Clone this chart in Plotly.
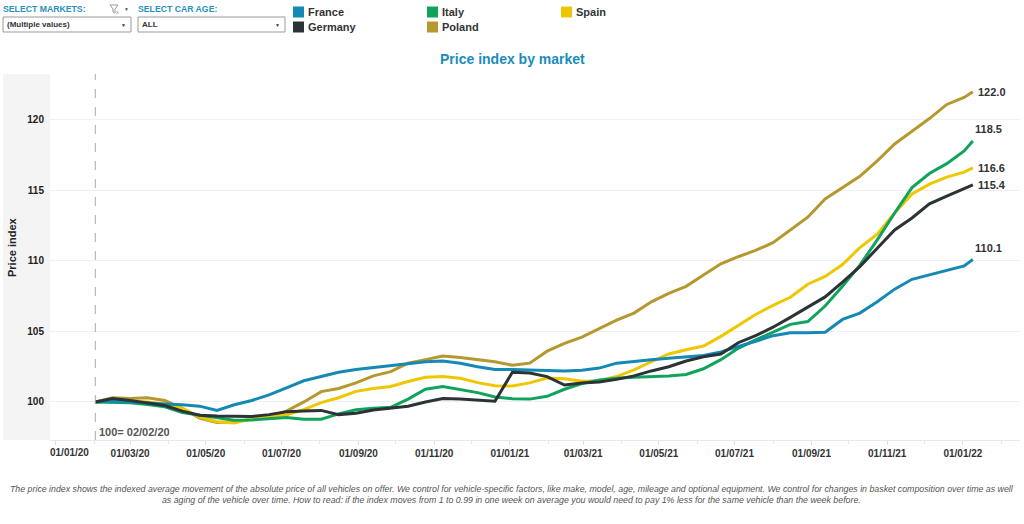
import pandas as pd
import plotly.graph_objects as go

# ---------------- data ----------------
week_offsets = list(range(0, 101, 2)) + [101]
start_date = pd.Timestamp("2020-02-02")
dates = [start_date + pd.Timedelta(days=7 * w) for w in week_offsets]

france = [100.0, 100.05, 100.0, 99.9, 99.85, 99.8, 99.7, 99.4, 99.8, 100.1,
          100.5, 101.0, 101.5, 101.8, 102.1, 102.3, 102.45, 102.6, 102.75, 102.85,
          102.9, 102.75, 102.5, 102.3, 102.3, 102.27, 102.25, 102.2, 102.25, 102.4,
          102.75, 102.9, 103.0, 103.1, 103.2, 103.3, 103.55, 103.9, 104.3, 104.7,
          104.9, 104.9, 104.95, 105.85, 106.3, 107.1, 108.0, 108.7, 109.0, 109.35,
          109.65, 110.1]
germany = [100.0, 100.25, 100.1, 99.95, 99.75, 99.35, 99.05, 99.0, 98.98, 98.97,
           99.1, 99.3, 99.35, 99.4, 99.1, 99.2, 99.43, 99.55, 99.7, 100.0,
           100.25, 100.2, 100.1, 100.05, 102.1, 102.05, 101.8, 101.2, 101.35, 101.42,
           101.6, 101.85, 102.2, 102.5, 102.9, 103.2, 103.4, 104.2, 104.7, 105.3,
           106.0, 106.7, 107.45, 108.5, 109.6, 110.9, 112.2, 113.05, 114.05, 114.6,
           115.1, 115.4]
italy = [100.0, 100.0, 99.95, 99.82, 99.65, 99.25, 99.08, 98.9, 98.7, 98.72,
         98.8, 98.9, 98.78, 98.78, 99.15, 99.45, 99.55, 99.62, 100.2, 100.9,
         101.1, 100.9, 100.66, 100.35, 100.23, 100.2, 100.4, 100.9, 101.3, 101.55,
         101.68, 101.75, 101.8, 101.84, 101.95, 102.35, 103.0, 103.8, 104.4, 104.95,
         105.5, 105.7, 106.8, 108.2, 109.7, 111.5, 113.4, 115.2, 116.2, 116.9,
         117.8, 118.5]
poland = [100.0, 100.3, 100.25, 100.3, 100.1, 99.55, 98.85, 98.55, 98.6, 98.75,
          98.95, 99.35, 100.0, 100.73, 100.95, 101.35, 101.85, 102.15, 102.75, 103.0,
          103.26, 103.15, 102.98, 102.85, 102.6, 102.75, 103.6, 104.15, 104.6, 105.2,
          105.8, 106.3, 107.1, 107.7, 108.2, 109.0, 109.8, 110.3, 110.75, 111.3,
          112.2, 113.1, 114.4, 115.2, 116.0, 117.1, 118.3, 119.2, 120.1, 121.1,
          121.6, 122.0]
spain = [100.0, 100.1, 100.05, 100.0, 99.85, 99.55, 98.95, 98.6, 98.5, 98.8,
         98.98, 99.08, 99.45, 99.95, 100.3, 100.75, 100.95, 101.1, 101.45, 101.75,
         101.8, 101.68, 101.37, 101.15, 101.13, 101.35, 101.7, 101.65, 101.47, 101.5,
         101.8, 102.28, 102.85, 103.4, 103.7, 103.97, 104.65, 105.4, 106.2, 106.85,
         107.42, 108.35, 108.9, 109.75, 110.95, 111.9, 113.4, 114.75, 115.45, 115.95,
         116.3, 116.6]

markets = ["France", "Germany", "Italy", "Poland", "Spain"]
series = {"France": france, "Germany": germany, "Italy": italy,
          "Poland": poland, "Spain": spain}
colors = {"France": "#1489b3", "Germany": "#2b3337", "Italy": "#10a35c",
          "Poland": "#b5982e", "Spain": "#efc700"}
end_label_above = {"France": True, "Italy": True}

x_tick_dates = ["2020-01-01", "2020-03-01", "2020-05-01", "2020-07-01", "2020-09-01",
                "2020-11-01", "2021-01-01", "2021-03-01", "2021-05-01", "2021-07-01",
                "2021-09-01", "2021-11-01", "2022-01-01"]
x_tick_labels = ["01/01/20", "01/03/20", "01/05/20", "01/07/20", "01/09/20",
                 "01/11/20", "01/01/21", "01/03/21", "01/05/21", "01/07/21",
                 "01/09/21", "01/11/21", "01/01/22"]
y_ticks = [100, 105, 110, 115, 120]
base_date = "2020-02-02"
base_label = "100= 02/02/20"

# ---------------- figure ----------------
W, H = 1024, 524
def px(x):
    return x / W
def py(y):
    return 1 - y / H

FONT = "Liberation Sans, Arial, sans-serif"
NARROW = "Liberation Sans Narrow, Arial Narrow, Liberation Sans, Arial, sans-serif"
TICKFONT = dict(family=FONT, size=10, color="#333333", weight="bold")

fig = go.Figure()
draw_order = ["Poland", "Spain", "Italy", "France", "Germany"]
for m in draw_order:
    fig.add_trace(go.Scatter(x=dates, y=series[m], mode="lines", name=m,
                             line=dict(color=colors[m], width=3),
                             showlegend=False, hoverinfo="skip"))

shapes = []
annotations = []

# grey band for y-axis labels
shapes.append(dict(type="rect", xref="paper", yref="paper",
                   x0=px(3), x1=px(50), y0=py(440), y1=py(74),
                   fillcolor="#f4f4f4", line=dict(width=0), layer="below"))
# dashed base line
shapes.append(dict(type="line", xref="x", yref="y domain", x0=base_date, x1=base_date,
                   y0=0, y1=1, line=dict(color="#aaaaaa", width=1, dash="dash")))
annotations.append(dict(x=base_date, xref="x", y=0, yref="y domain",
                        xanchor="left", yanchor="bottom", xshift=2, yshift=0,
                        text="<b>" + base_label + "</b>", showarrow=False,
                        font=dict(family=FONT, size=11, color="#555555")))

# first x tick label is pushed inside the plot, as in the original dashboard
annotations.append(dict(x=x_tick_dates[0], xref="x", y=0, yref="y domain",
                        xanchor="center", yanchor="top", xshift=14, yshift=-5,
                        text=x_tick_labels[0], showarrow=False, font=TICKFONT))

# end labels
for m in markets:
    v = series[m][-1]
    if end_label_above.get(m):
        annotations.append(dict(x=dates[-1], y=v, xref="x", yref="y",
                                xanchor="left", yanchor="bottom", xshift=0, yshift=4,
                                text="<b>%.1f</b>" % v, showarrow=False,
                                font=dict(family=FONT, size=11, color="#333333")))
    else:
        annotations.append(dict(x=dates[-1], y=v, xref="x", yref="y",
                                xanchor="left", yanchor="middle", xshift=3,
                                text="<b>%.1f</b>" % v, showarrow=False,
                                font=dict(family=FONT, size=11, color="#333333")))

# title
annotations.append(dict(x=px(512), y=py(59), xref="paper", yref="paper",
                        text="<b>Price index by market</b>", showarrow=False,
                        xanchor="center", yanchor="middle",
                        font=dict(family=FONT, size=14, color="#1a8cbb")))
# y-axis title
annotations.append(dict(x=px(12), y=py(247), xref="paper", yref="paper",
                        text="<b>Price index</b>", showarrow=False, textangle=-90,
                        xanchor="center", yanchor="middle",
                        font=dict(family=FONT, size=11, color="#222222")))

# header filters
annotations.append(dict(x=px(1), y=py(9), xref="paper", yref="paper",
                        text="<b>SELECT MARKETS:</b>", showarrow=False,
                        xanchor="left", yanchor="middle",
                        font=dict(family=NARROW, size=8.7, color="#2a8fc0")))
annotations.append(dict(x=px(136), y=py(9), xref="paper", yref="paper",
                        text="<b>SELECT CAR AGE:</b>", showarrow=False,
                        xanchor="left", yanchor="middle",
                        font=dict(family=NARROW, size=8.7, color="#2a8fc0")))
for (x0, x1, label) in [(3, 131, "(Multiple values)"), (138, 285, "ALL")]:
    shapes.append(dict(type="rect", xref="paper", yref="paper",
                       x0=px(x0), x1=px(x1), y0=py(32), y1=py(17),
                       fillcolor="white", line=dict(color="#9a9a9a", width=1)))
    annotations.append(dict(x=px(x0 + 2), y=py(24.5), xref="paper", yref="paper",
                            text="<b>" + label + "</b>", showarrow=False,
                            xanchor="left", yanchor="middle",
                            font=dict(family=NARROW, size=8, color="#333333")))
    annotations.append(dict(x=px(x1 - 8), y=py(24.5), xref="paper", yref="paper",
                            text="▼", showarrow=False,
                            xanchor="center", yanchor="middle",
                            font=dict(family=FONT, size=5, color="#333333")))
# funnel icon + arrow
fx = [110, 118, 115, 115, 113, 113]
fy = [5, 5, 9, 13, 12, 9]
path = "M " + " L ".join("%.5f,%.5f" % (px(a), py(b)) for a, b in zip(fx, fy)) + " Z"
shapes.append(dict(type="path", xref="paper", yref="paper", path=path,
                   line=dict(color="#9a9a9a", width=1), fillcolor="white"))
annotations.append(dict(x=px(117.5), y=py(12), xref="paper", yref="paper",
                        text="x", showarrow=False, xanchor="center", yanchor="middle",
                        font=dict(family=FONT, size=6, color="#e07b2a")))
annotations.append(dict(x=px(126), y=py(9), xref="paper", yref="paper",
                        text="▼", showarrow=False, xanchor="center", yanchor="middle",
                        font=dict(family=FONT, size=5, color="#555555")))

# legend (three columns)
legend_pos = {"France": (293, 12), "Germany": (293, 27), "Italy": (427, 12),
              "Poland": (427, 27), "Spain": (561, 12)}
for m in markets:
    lx, ly = legend_pos[m]
    shapes.append(dict(type="rect", xref="paper", yref="paper",
                       x0=px(lx), x1=px(lx + 11), y0=py(ly + 5.5), y1=py(ly - 5.5),
                       fillcolor=colors[m], line=dict(width=0)))
    annotations.append(dict(x=px(lx + 13), y=py(ly), xref="paper", yref="paper",
                            text="<b>" + m + "</b>", showarrow=False,
                            xanchor="left", yanchor="middle",
                            font=dict(family=NARROW, size=11, color="#333333")))

# footer
footer = ("The price index shows the indexed average movement of the absolute price of all vehicles on offer. "
          "We control for vehicle-specific factors, like make, model, age, mileage and optional equipment. "
          "We control for changes in basket composition over time as well<br>"
          "as aging of the vehicle over time. How to read: if the index moves from 1 to 0.99 in one week "
          "on average you would need to pay 1% less for the same vehicle than the week before.")
annotations.append(dict(x=px(512), y=py(494.5), xref="paper", yref="paper",
                        text="<i>" + footer + "</i>", showarrow=False,
                        xanchor="center", yanchor="middle", align="center",
                        font=dict(family=NARROW, size=8.8, color="#555555")))

fig.update_layout(
    width=W, height=H, autosize=False,
    margin=dict(l=0, r=0, t=0, b=0),
    paper_bgcolor="white", plot_bgcolor="white",
    shapes=shapes, annotations=annotations,
    showlegend=False,
    xaxis=dict(domain=[px(50), px(1020)],
               range=["2019-12-27 12:00", "2022-02-16"],
               type="date", tickvals=x_tick_dates,
               ticktext=[""] + x_tick_labels[1:],
               showgrid=False, zeroline=False,
               showline=True, linecolor="#e8e8e8", linewidth=1,
               ticks="outside", ticklen=4, tickcolor="#dddddd",
               minor=dict(dtick="M1", ticks="outside", ticklen=3, tickcolor="#e6e6e6"),
               tickfont=TICKFONT),
    yaxis=dict(domain=[py(440), py(74)], range=[97.3, 123.26],
               tickvals=y_ticks, showgrid=True, gridcolor="#f0f0f0", gridwidth=1,
               zeroline=False, showline=False, ticks="",
               ticklabelstandoff=5,
               tickfont=dict(family=FONT, size=10, color="#222222", weight="bold")),
)

fig.write_html("out.html", config={"displayModeBar": False},
               post_script="document.body.style.margin='0';document.body.style.padding='0';")
